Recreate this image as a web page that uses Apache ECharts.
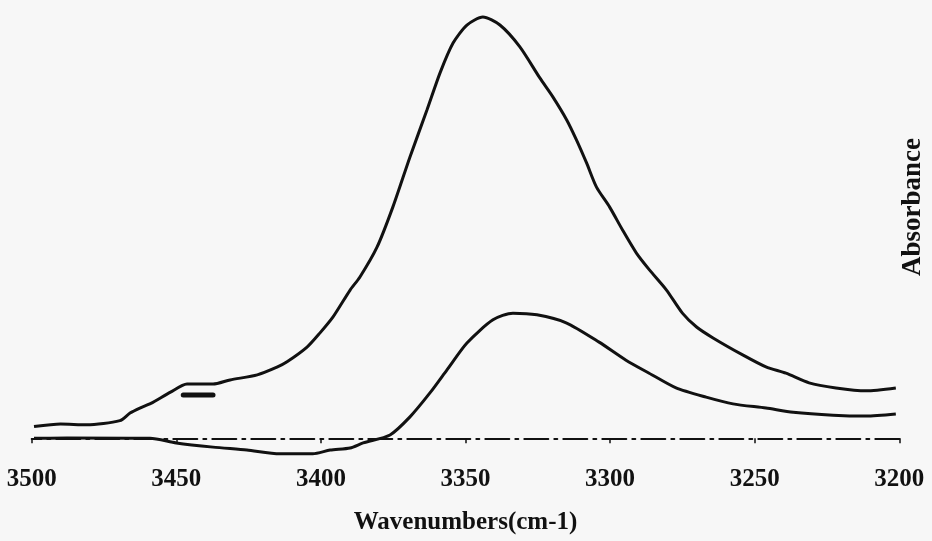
<!DOCTYPE html>
<html>
<head>
<meta charset="utf-8">
<script src="https://cdn.jsdelivr.net/npm/echarts@6/dist/echarts.min.js"></script>
<style>
	html, body { margin: 0; padding: 0; background: #f7f7f7; }
	#spectrum { width: 932px; height: 541px; }
</style>
</head>
<body>
<div id="spectrum"></div>
<script>
	'use strict'
	/*----data----*/
	var xTicks = [3500, 3450, 3400, 3350, 3300, 3250, 3200];

	var upperWave = [3499.2, 3490, 3481, 3469.5, 3466, 3462.6, 3458.8, 3452, 3446.3, 3437.3, 3431.4, 3422, 3415, 3411.7,
		3404.8, 3400.3, 3395.8, 3389.9, 3386.5, 3380.6, 3375.1, 3369.2, 3363.3, 3358.8, 3354.3, 3349.5, 3344, 3338.1,
		3331.2, 3324.3, 3319.8, 3315, 3311.6, 3308.1, 3304.7, 3300.2, 3295.7, 3290.9, 3286.4, 3280.5, 3275, 3270.1,
		3264.4, 3254, 3246.1, 3239.2, 3231.2, 3221.9, 3211.5, 3201.2];
	var upperAbs = [0.028, 0.034, 0.032, 0.042, 0.060, 0.072, 0.083, 0.110, 0.129, 0.129, 0.139, 0.151, 0.170, 0.182,
		0.217, 0.251, 0.289, 0.353, 0.384, 0.455, 0.551, 0.670, 0.782, 0.870, 0.941, 0.984, 1.003, 0.984,
		0.932, 0.858, 0.813, 0.758, 0.710, 0.655, 0.598, 0.551, 0.496, 0.441, 0.401, 0.353, 0.298, 0.265,
		0.239, 0.198, 0.170, 0.155, 0.132, 0.120, 0.113, 0.120];

	var lowerWave = [3499.2, 3487.8, 3459.1, 3450, 3437.3, 3425.6, 3414.2, 3402.8, 3396.8, 3389.9, 3385.4, 3376.1,
		3369.2, 3362.3, 3356.4, 3349.5, 3340.5, 3333.6, 3325.3, 3315.2, 3303.8, 3294.5, 3286.5, 3277.2, 3266.8,
		3257.5, 3246.1, 3236.7, 3222.9, 3211.5, 3201.2];
	var lowerAbs = [0.000, 0.001, 0.000, -0.011, -0.021, -0.028, -0.037, -0.037, -0.028, -0.023, -0.011, 0.008,
		0.051, 0.108, 0.163, 0.227, 0.282, 0.298, 0.294, 0.275, 0.229, 0.186, 0.155, 0.120, 0.098,
		0.082, 0.072, 0.062, 0.055, 0.053, 0.058];

	// ink smudge under the shoulder
	var smudgeWave = [3447.6, 3437.3];
	var smudgeAbs = [0.103, 0.103];

	function pairs(xs, ys) {
		return xs.map(function(x, i) { return [x, ys[i]]; });
	}

	var ink = '#111111';
	var chart = echarts.init(document.getElementById('spectrum'));
	chart.setOption({
		backgroundColor: '#f7f7f7',
		animation: false,
		// zero sits on the grid bottom, the dip below zero is drawn unclipped
		grid: {
			left: 31.7,
			right: 32.7,
			top: 9.9,
			bottom: 102.7,
			outerBoundsMode: 'none',
			containLabel: false
		},
		xAxis: {
			type: 'value',
			inverse: true,
			min: 3200,
			max: 3500,
			interval: 50,
			name: 'Wavenumbers(cm-1)',
			nameLocation: 'middle',
			nameGap: 72,
			nameTextStyle: {
				fontFamily: 'Liberation Serif',
				fontSize: 25,
				fontWeight: 'bold',
				color: ink
			},
			axisLine: {
				onZero: false,
				lineStyle: {
					color: ink,
					width: 2,
					type: [24, 6, 3, 6]
				}
			},
			axisTick: {
				show: true,
				length: 5,
				lineStyle: { color: ink, width: 1.5 }
			},
			axisLabel: {
				margin: 29,
				fontFamily: 'Liberation Serif',
				fontSize: 25,
				fontWeight: 'bold',
				color: ink,
				formatter: function(v) {
					return xTicks.indexOf(v) >= 0 ? String(v) : '';
				}
			},
			splitLine: { show: false }
		},
		yAxis: {
			type: 'value',
			min: 0,
			max: 1.02,
			show: false
		},
		graphic: [{
			type: 'text',
			x: 913,
			y: 207,
			rotation: Math.PI / 2,
			style: {
				text: 'Absorbance',
				fontFamily: 'Liberation Serif',
				fontSize: 27,
				fontWeight: 'bold',
				fill: ink,
				align: 'center',
				verticalAlign: 'middle'
			}
		}],
		series: [{
			name: 'upper',
			type: 'line',
			smooth: 0.25,
			symbol: 'none',
			clip: false,
			data: pairs(upperWave, upperAbs),
			lineStyle: { color: ink, width: 3 }
		}, {
			name: 'lower',
			type: 'line',
			smooth: 0.25,
			symbol: 'none',
			clip: false,
			data: pairs(lowerWave, lowerAbs),
			lineStyle: { color: ink, width: 3 }
		}, {
			name: 'smudge',
			type: 'line',
			symbol: 'none',
			clip: false,
			data: pairs(smudgeWave, smudgeAbs),
			lineStyle: { color: ink, width: 5, cap: 'round' }
		}]
	});
</script>
</body>
</html>
